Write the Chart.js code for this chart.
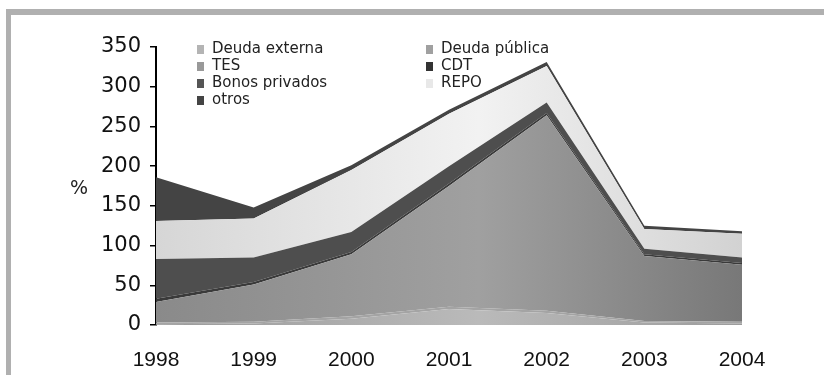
<!DOCTYPE html>
<html>
<head>
<meta charset="utf-8">
<script src="https://cdn.jsdelivr.net/npm/chart.js@4/dist/chart.umd.min.js"></script>
<style>
  html, body { margin: 0; padding: 0; background: #fff; }
  #wrap { position: relative; width: 824px; height: 375px; overflow: hidden; }
  #frame { position: absolute; left: 6px; top: 9px; width: 830px; height: 380px;
           border-top: 6px solid #b0b0b0; border-left: 5px solid #b0b0b0; }
  canvas { position: absolute; left: 0; top: 0; }
</style>
</head>
<body>
<div id="wrap">
  <div id="frame"></div>
  <canvas id="grafico" width="824" height="375"></canvas>
</div>
<script>
// datos (%)
const anios = ['1998', '1999', '2000', '2001', '2002', '2003', '2004'];
const deudaExterna = [1, 2, 8, 20, 15, 3, 2];
const deudaPublica = [2, 2, 3, 3, 3, 2, 2];
const tes = [26, 47, 78, 152, 246, 82, 72];
const cdt = [4, 3, 3, 3, 3, 2, 2];
const bonosPrivados = [50, 31, 25, 22, 13, 7, 7];
const repo = [48, 49, 78, 66, 46, 25, 30];
const otros = [55, 14, 6, 5, 5, 4, 3];
const ticksY = [0, 50, 100, 150, 200, 250, 300, 350];

// degradado horizontal como en el original
function degradado(colores) {
    return function(context) {
        const chart = context.chart;
        const area = chart.chartArea;
        if (!area) return colores[1];
        const g = chart.ctx.createLinearGradient(area.left, 0, area.right, 0);
        g.addColorStop(0, colores[0]);
        g.addColorStop(0.55, colores[1]);
        g.addColorStop(1, colores[2]);
        return g;
    };
}

const series = [
    { label: 'Deuda externa', data: deudaExterna, color: degradado(['#9a9a9a', '#bababa', '#9c9c9c']), swatch: '#b4b4b4' },
    { label: 'Deuda pública', data: deudaPublica, color: '#a4a4a4', swatch: '#a0a0a0' },
    { label: 'TES', data: tes, color: degradado(['#8a8a8a', '#a0a0a0', '#787878']), swatch: '#999999' },
    { label: 'CDT', data: cdt, color: '#3a3a3a', swatch: '#333333' },
    { label: 'Bonos privados', data: bonosPrivados, color: '#4e4e4e', swatch: '#555555' },
    { label: 'REPO', data: repo, color: degradado(['#d6d6d6', '#f2f2f2', '#d2d2d2']), swatch: '#e8e8e8' },
    { label: 'otros', data: otros, color: '#444444', swatch: '#444444' }
];

// leyenda en dos columnas (orden por filas) y el simbolo %
const leyendaPlugin = {
    id: 'leyenda',
    afterDraw(chart) {
        const c = chart.ctx;
        c.save();
        c.font = '15px "DejaVu Sans", sans-serif';
        c.textBaseline = 'middle';
        const filasY = [49, 66, 83, 100];
        chart.data.datasets.forEach(function(ds, i) {
            const col = i % 2;
            const fila = Math.floor(i / 2);
            const x = col === 0 ? 197 : 426;
            const y = filasY[fila];
            c.fillStyle = series[i].swatch;
            c.fillRect(x, y - 4, 7, 9);
            c.fillStyle = '#222';
            c.fillText(ds.label, x + 15, y);
        });
        c.font = '19px "DejaVu Sans", sans-serif';
        c.textAlign = 'center';
        c.fillStyle = '#222';
        c.fillText('%', 79, 189);
        c.restore();
    }
};

const ctx = document.getElementById('grafico').getContext('2d');
new Chart(ctx, {
    type: 'line',
    data: {
        labels: anios,
        datasets: series.map(function(s, i) {
            return {
                label: s.label,
                data: s.data,
                backgroundColor: s.color,
                borderWidth: 0,
                pointRadius: 0,
                tension: 0,
                fill: i === 0 ? 'origin' : '-1'
            };
        })
    },
    options: {
        responsive: false,
        animation: false,
        layout: { padding: { left: 0, right: 82, top: 47, bottom: 0 } },
        plugins: {
            legend: { display: false },
            tooltip: { enabled: false }
        },
        scales: {
            x: {
                offset: false,
                grid: { display: false },
                border: { display: false },
                ticks: {
                    color: '#111',
                    font: { family: '"Liberation Sans", Arial, sans-serif', size: 21 },
                    padding: 15,
                    maxRotation: 0,
                    autoSkip: false
                },
                afterFit(scale) { scale.height = 50; }
            },
            y: {
                stacked: true,
                min: 0,
                max: 350,
                afterBuildTicks(scale) {
                    scale.ticks = ticksY.map(function(v) { return { value: v }; });
                },
                grid: { drawOnChartArea: false, drawTicks: true, tickLength: 6, color: '#000', lineWidth: 1.5 },
                border: { display: true, color: '#000', width: 2 },
                ticks: {
                    color: '#111',
                    font: { family: '"DejaVu Sans", sans-serif', size: 21 },
                    padding: 9
                },
                afterFit(scale) { scale.width = 156; }
            }
        }
    },
    plugins: [leyendaPlugin]
});
</script>
</body>
</html>
